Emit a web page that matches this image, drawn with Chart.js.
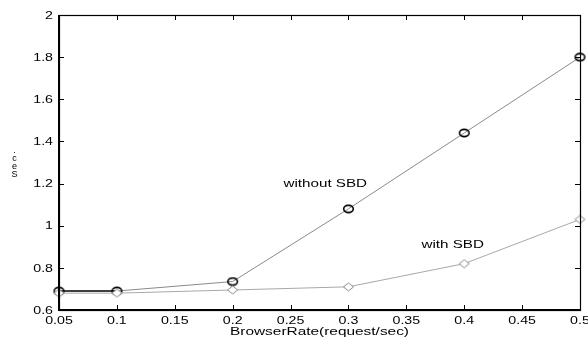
<!DOCTYPE html>
<html>
<head>
<meta charset="utf-8">
<script src="https://cdn.jsdelivr.net/npm/chart.js@4"></script>
<style>
  html, body { margin: 0; padding: 0; background: #fff; }
  #wrap { width: 588px; height: 339px; }
</style>
</head>
<body>
<div id="wrap"><canvas id="sbdChart"></canvas></div>
<script>
const rates = [0.05, 0.1, 0.2, 0.3, 0.4, 0.5];
const withoutSBD = [0.69, 0.69, 0.735, 1.08, 1.44, 1.8];
const withSBD = [0.68, 0.68, 0.695, 0.71, 0.82, 1.03];

const xTicks = [0.05, 0.1, 0.15, 0.2, 0.25, 0.3, 0.35, 0.4, 0.45, 0.5];
const xTickLabels = ['0.05', '0.1', '0.15', '0.2', '0.25', '0.3', '0.35', '0.4', '0.45', '0.5'];
const yTicks = [0.6, 0.8, 1, 1.2, 1.4, 1.6, 1.8, 2];
const yTickLabels = ['0.6', '0.8', '1', '1.2', '1.4', '1.6', '1.8', '2'];

const xTitle = 'BrowserRate(request/sec)';
const yTitle = 'Sec.';
const notes = [
    { text: 'without SBD', x: 0.28, y: 1.205 },
    { text: 'with SBD', x: 0.39, y: 0.912 }
];

const FONT = '"Liberation Sans", Arial, sans-serif';

// the original figure's text is stretched sideways, so draw it scaled
function wideText(ctx, text, x, y, size, sx, align) {
    ctx.save();
    ctx.translate(x, y);
    ctx.scale(sx, 1);
    ctx.font = size + 'px ' + FONT;
    ctx.textAlign = align;
    ctx.textBaseline = 'alphabetic';
    ctx.fillText(text, 0, 0);
    ctx.restore();
}

// markers are a little wider than tall, like the source
function marker(kind) {
    const c = document.createElement('canvas');
    c.width = 13; c.height = 10;
    const g = c.getContext('2d');
    g.beginPath();
    if (kind === 'ellipse') {
        g.ellipse(6.5, 5, 4.8, 3.6, 0, 0, Math.PI * 2);
        g.lineWidth = 1.6;
        g.strokeStyle = '#000';
    } else {
        g.moveTo(6.5, 1); g.lineTo(11.5, 5); g.lineTo(6.5, 9); g.lineTo(1.5, 5); g.closePath();
        g.fillStyle = '#fff';
        g.fill();
        g.lineWidth = 1;
        g.strokeStyle = '#8a8a8a';
    }
    g.stroke();
    return c;
}

const frame = {
    id: 'frame',
    afterDatasetsDraw(chart) {
        const { ctx, chartArea: a, scales } = chart;
        ctx.save();
        ctx.strokeStyle = '#000';
        ctx.fillStyle = '#000';
        // inward ticks on all four sides
        ctx.lineWidth = 1;
        ctx.beginPath();
        xTicks.forEach(v => {
            const px = Math.round(scales.x.getPixelForValue(v)) + 0.5;
            ctx.moveTo(px, a.bottom); ctx.lineTo(px, a.bottom - 5);
            ctx.moveTo(px, a.top); ctx.lineTo(px, a.top + 5);
        });
        yTicks.forEach(v => {
            const py = Math.round(scales.y.getPixelForValue(v)) + 0.5;
            ctx.moveTo(a.left, py); ctx.lineTo(a.left + 5, py);
            ctx.moveTo(a.right, py); ctx.lineTo(a.right - 5, py);
        });
        ctx.stroke();
        // box
        ctx.lineWidth = 1.2;
        ctx.strokeRect(a.left + 0.5, a.top + 0.5, a.right - a.left, a.bottom - a.top);
        ctx.lineWidth = 2;
        ctx.beginPath();
        ctx.moveTo(a.left, a.top); ctx.lineTo(a.left, a.bottom); ctx.lineTo(a.right, a.bottom);
        ctx.stroke();

        // tick labels
        xTicks.forEach((v, i) => {
            wideText(ctx, xTickLabels[i], scales.x.getPixelForValue(v), a.bottom + 13.5, 10.3, 1.38, 'center');
        });
        yTicks.forEach((v, i) => {
            wideText(ctx, yTickLabels[i], a.left - 6, scales.y.getPixelForValue(v) + 3.7, 10.3, 1.38, 'right');
        });

        // annotations
        notes.forEach(n => {
            wideText(ctx, n.text, scales.x.getPixelForValue(n.x), scales.y.getPixelForValue(n.y) + 4, 11, 1.38, 'center');
        });

        // x title
        wideText(ctx, xTitle, (a.left + a.right) / 2, a.bottom + 24.5, 11.5, 1.34, 'center');

        // y title: upright letters stacked, read bottom to top
        const midY = (a.top + a.bottom) / 2;
        const letters = yTitle.split('');
        for (let i = 0; i < letters.length; i++) {
            wideText(ctx, letters[i], 14.5, midY + 14 - i * 8, 9, 1, 'center');
        }
        ctx.restore();
    }
};

const ctx = document.getElementById('sbdChart').getContext('2d');
new Chart(ctx, {
    type: 'line',
    data: {
        datasets: [
            {
                label: 'with SBD',
                data: rates.map((r, i) => ({ x: r, y: withSBD[i] })),
                borderColor: '#a8a8a8',
                borderWidth: 1,
                pointStyle: marker('diamond'),
                clip: false
            },
            {
                label: 'without SBD',
                data: rates.map((r, i) => ({ x: r, y: withoutSBD[i] })),
                borderColor: '#8a8a8a',
                borderWidth: 1,
                segment: {
                    borderColor: c => c.p0DataIndex === 0 ? '#000' : '#8a8a8a',
                    borderWidth: c => c.p0DataIndex === 0 ? 1.5 : 1
                },
                pointStyle: marker('ellipse'),
                clip: false
            }
        ]
    },
    options: {
        responsive: true,
        maintainAspectRatio: false,
        animation: false,
        layout: { padding: { top: 15, right: 8, left: 0, bottom: 0 } },
        plugins: {
            legend: { display: false },
            tooltip: { enabled: false }
        },
        scales: {
            x: {
                type: 'linear',
                min: 0.05,
                max: 0.5,
                afterBuildTicks: s => { s.ticks = xTicks.map(v => ({ value: v })); },
                afterFit: s => { s.height = 29; },
                grid: { display: false, drawTicks: false },
                border: { display: false },
                ticks: { display: false }
            },
            y: {
                type: 'linear',
                min: 0.6,
                max: 2,
                afterBuildTicks: s => { s.ticks = yTicks.map(v => ({ value: v })); },
                afterFit: s => { s.width = 59; },
                grid: { display: false, drawTicks: false },
                border: { display: false },
                ticks: { display: false }
            }
        }
    },
    plugins: [frame]
});
</script>
</body>
</html>
